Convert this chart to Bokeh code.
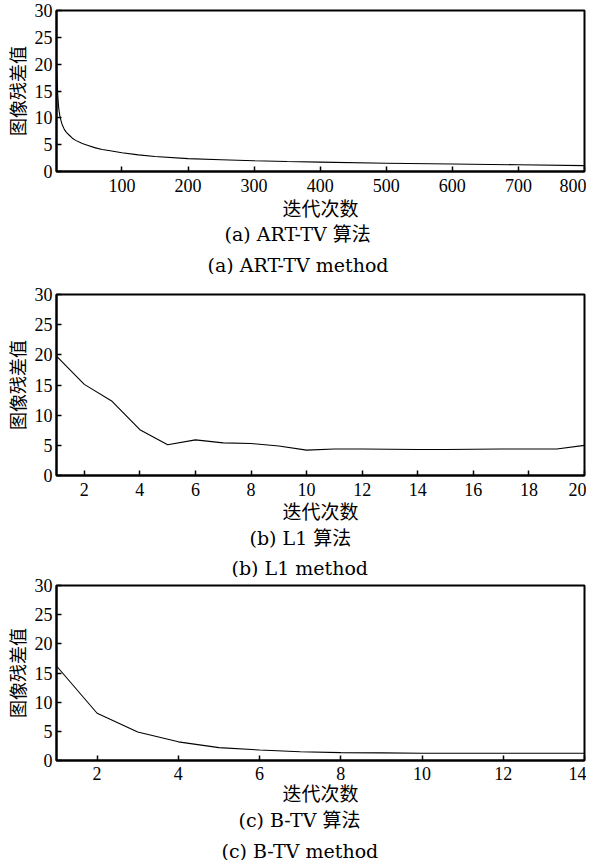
from bokeh.plotting import figure
from bokeh.layouts import column
from bokeh.models import Range1d, FixedTicker, Title, LinearAxis
from bokeh.embed import file_html
from bokeh.resources import INLINE

# ---- data ----
art_iter = [1, 2, 3, 4, 5, 6, 8, 10, 13, 16, 20, 25, 30, 40, 50, 60, 70, 80, 100,
            125, 150, 200, 250, 300, 350, 400, 500, 600, 700, 800]
art_resid = [19.5, 16.5, 14.0, 12.3, 11.2, 10.4, 9.4, 8.6, 7.8, 7.3, 6.8, 6.2, 5.8,
             5.2, 4.8, 4.4, 4.1, 3.9, 3.5, 3.1, 2.8, 2.4, 2.2, 2.0, 1.85, 1.75,
             1.55, 1.4, 1.25, 1.1]

l1_iter = list(range(1, 21))
l1_resid = [19.8, 15.1, 12.3, 7.6, 5.1, 5.9, 5.4, 5.3, 4.9, 4.2,
            4.4, 4.4, 4.35, 4.3, 4.3, 4.35, 4.4, 4.4, 4.4, 5.0]

btv_iter = list(range(1, 15))
btv_resid = [16.2, 8.1, 4.9, 3.2, 2.2, 1.8, 1.5, 1.35, 1.3, 1.25,
             1.25, 1.25, 1.25, 1.25]

y_ticks = [0, 5, 10, 15, 20, 25, 30]
art_ticks = [100, 200, 300, 400, 500, 600, 700, 800]
l1_ticks = [2, 4, 6, 8, 10, 12, 14, 16, 18, 20]
btv_ticks = [2, 4, 6, 8, 10, 12, 14]

x_label = "迭代次数"
y_label = "图像残差值"
captions_cn = ["(a) ART-TV 算法", "(b) L1 算法", "(c) B-TV 算法"]
captions_en = ["(a) ART-TV method", "(b) L1 method", "(c) B-TV method"]

TICK_FONT = "'Liberation Serif', 'Noto Sans CJK SC'"
CJK_FONT = "'Noto Sans CJK SC', 'Liberation Serif'"
CAP_FONT = "'DejaVu Serif', 'Noto Sans CJK SC'"


def make_panel(xs, ys, xmax, xticks, cap_cn, cap_en, height, top, bottom,
               tick_standoff, label_standoff, cap1, gap, cap2):
    p = figure(width=586, height=height,
               x_range=Range1d(1, xmax), y_range=Range1d(0, 30),
               output_backend="svg", toolbar_location=None,
               min_border_left=53, min_border_right=2,
               min_border_top=top, min_border_bottom=bottom)
    p.line(xs, ys, line_color="black", line_width=1.1)
    p.grid.visible = False
    p.outline_line_color = "black"
    p.outline_line_width = 2
    p.background_fill_color = "white"
    p.border_fill_color = "white"

    xa = p.xaxis[0]
    ya = p.yaxis[0]
    xa.ticker = FixedTicker(ticks=xticks)
    ya.ticker = FixedTicker(ticks=y_ticks)
    for ax in (xa, ya):
        ax.axis_line_color = "black"
        ax.axis_line_width = 2
        ax.major_tick_in = 5
        ax.major_tick_out = 0
        ax.major_tick_line_color = "black"
        ax.major_tick_line_width = 1.5
        ax.minor_tick_line_color = None
        ax.major_label_text_font = TICK_FONT
        ax.major_label_text_font_size = "18px"
        ax.major_label_text_color = "black"
        ax.axis_label_text_font = CJK_FONT
        ax.axis_label_text_font_style = "normal"
        ax.axis_label_text_color = "black"
    xa.axis_label = x_label
    xa.axis_label_text_font_size = "19px"
    xa.major_label_standoff = tick_standoff
    xa.axis_label_standoff = label_standoff
    ya.axis_label = y_label
    ya.axis_label_text_font_size = "18px"
    ya.major_label_standoff = 4
    ya.axis_label_standoff = 2

    def caption(txt, off, so):
        return Title(text=txt, align="left", offset=off, standoff=so,
                     text_font=CAP_FONT, text_font_size="19px",
                     text_font_style="normal", text_color="black")

    p.add_layout(caption(cap_cn, *cap1), "below")
    # blank spacer between the two caption lines (white tick on white border)
    spacer = LinearAxis(ticker=FixedTicker(ticks=[xmax]), axis_line_color=None,
                        major_tick_out=gap, major_tick_in=0,
                        major_tick_line_color="white", major_tick_line_width=1,
                        minor_tick_line_color=None, minor_tick_out=0,
                        major_label_standoff=0, major_label_text_font_size="0px",
                        major_label_overrides={xmax: ""})
    p.add_layout(spacer, "below")
    p.add_layout(caption(cap_en, *cap2), "below")
    return p


p1 = make_panel(art_iter, art_resid, 800, art_ticks, captions_cn[0], captions_en[0],
                height=274, top=10, bottom=103, tick_standoff=7, label_standoff=-1,
                cap1=(168, -6), gap=11, cap2=(151, -2))
p2 = make_panel(l1_iter, l1_resid, 20, l1_ticks, captions_cn[1], captions_en[1],
                height=303, top=20, bottom=102, tick_standoff=7, label_standoff=-2,
                cap1=(193, -4), gap=9, cap2=(175, -2))
p3 = make_panel(btv_iter, btv_resid, 14, btv_ticks, captions_cn[2], captions_en[2],
                height=283, top=8, bottom=100, tick_standoff=6, label_standoff=-4,
                cap1=(182, -4), gap=10, cap2=(165, -2))

layout = column(p1, p2, p3, spacing=0)
open("out.html", "w").write(file_html(layout, INLINE))
